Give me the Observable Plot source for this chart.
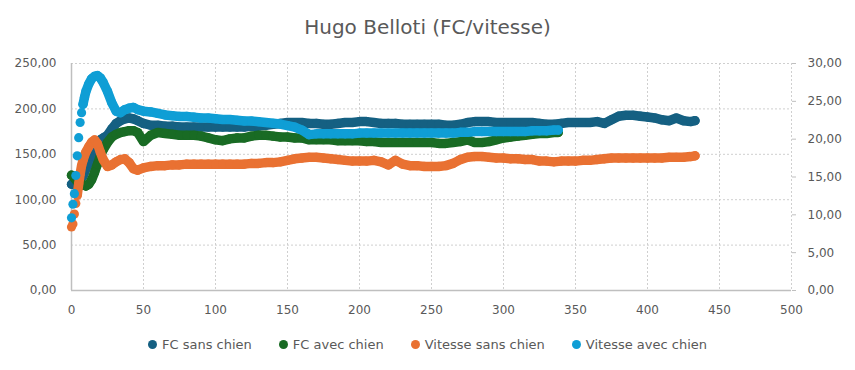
<!DOCTYPE html>
<html><head><meta charset="utf-8">
<script src="https://cdn.jsdelivr.net/npm/d3@7"></script>
<script src="https://cdn.jsdelivr.net/npm/@observablehq/plot@0.6"></script>
<style>
body{margin:0;background:#fff;font-family:"DejaVu Sans",sans-serif;color:#595959}
#wrap{width:855px;height:370px;position:relative;overflow:hidden;background:#fff}
#title{position:absolute;left:0;width:855px;top:17px;text-align:center;font-size:20px;line-height:20px;color:#595959}
#chart{position:absolute;left:0;top:50px}
#legend{position:absolute;left:0;top:338px;width:855px;display:flex;justify-content:center;gap:27px;font-size:13px;line-height:13px;color:#595959}
.item{display:flex;align-items:center;gap:5px}
.sw{width:9px;height:9px;border-radius:50%;display:inline-block}
</style></head><body>
<div id="wrap">
<div id="title">Hugo Belloti (FC/vitesse)</div>
<div id="chart"></div>
<div id="legend"></div>
</div>
<script>
const seriesNames = ["FC sans chien", "FC avec chien", "Vitesse sans chien", "Vitesse avec chien"];
const seriesColors = ["#156082", "#196B24", "#E97132", "#0F9ED5"];
const xTicks = [0, 50, 100, 150, 200, 250, 300, 350, 400, 450, 500];
const yTicks = [0, 50, 100, 150, 200, 250];
const rightTicks = [0, 5, 10, 15, 20, 25, 30];

const tSans = [0,1,2,3,4,5,6,7,8,9,10,12,14,16,18,20,22,25,28,31,34,37,40,43,46,50,
55,60,65,70,75,80,85,90,95,100,105,110,115,120,125,130,135,140,145,150,155,160,165,170,175,180,185,190,195,200,
205,210,215,220,225,230,235,240,245,250,255,260,265,270,275,280,285,290,295,300,305,310,315,320,325,330,335,340,
345,350,355,360,365,370,375,380,385,390,395,400,405,410,415,420,425,430,433];
const fcSans = [117,117,118,118,119,120,122,124,126,130,134,140,148,155,162,166,168,171,178,184,187,189,190,189,187,184,
182,182,181,181,180,180,180,180,180,180,180,180,180,180,181,181,182,183,184,185,185,185,184,184,183,183,184,185,185,186,
186,185,184,184,184,183,183,183,183,183,183,182,182,183,185,186,186,186,185,185,185,185,185,185,184,183,183,184,
185,185,185,185,186,184,188,192,193,193,192,191,190,188,187,190,187,186,187];
const vitSans = [8.4,8.8,10.1,11.5,12.6,14.1,15.4,16.5,17.2,17.8,18.3,19.0,19.6,19.9,19.4,18.3,17.3,16.4,16.6,17.0,17.3,17.4,16.9,16.1,15.9,16.2,
16.4,16.5,16.5,16.6,16.6,16.7,16.7,16.7,16.7,16.7,16.7,16.7,16.7,16.7,16.8,16.8,16.9,16.9,17.0,17.2,17.4,17.5,17.6,17.6,17.5,17.4,17.3,17.2,17.1,17.1,
17.1,17.2,17.0,16.6,17.2,16.7,16.5,16.5,16.4,16.4,16.4,16.5,16.8,17.3,17.6,17.7,17.7,17.6,17.5,17.5,17.4,17.4,17.3,17.3,17.1,17.1,17.0,17.1,
17.1,17.1,17.2,17.2,17.3,17.4,17.5,17.5,17.5,17.5,17.5,17.5,17.5,17.5,17.6,17.6,17.6,17.7,17.8];

const tAvec = [0,1,2,3,4,5,6,7,8,9,10,12,14,16,18,20,22,25,28,31,34,37,40,43,46,50,
55,60,65,70,75,80,85,90,95,100,105,110,115,120,125,130,135,140,145,150,155,160,165,170,175,180,185,190,195,200,
205,210,215,220,225,230,235,240,245,250,255,260,265,270,275,280,285,290,295,300,305,310,315,320,325,330,335,338];
const fcAvec = [127,126,124,122,120,119,118,117,116,116,115,117,122,130,139,148,155,163,169,172,174,175,176,176,174,164,
171,174,173,172,171,171,171,170,168,166,165,167,168,168,170,171,171,170,169,169,168,168,166,166,166,166,165,165,165,165,
164,164,163,163,163,163,163,163,163,163,162,162,163,164,166,163,163,164,166,168,169,170,171,172,173,173,174,174];
const vitAvec = [9.6,11.4,12.8,15.2,17.8,20.2,22.2,23.5,24.6,25.5,26.3,27.3,28.0,28.3,28.4,28.1,27.5,26.3,24.8,23.7,23.5,23.9,24.1,24.2,23.9,23.7,
23.6,23.4,23.2,23.1,23.0,23.0,22.9,22.8,22.8,22.7,22.6,22.6,22.5,22.4,22.4,22.3,22.2,22.1,22.0,21.8,21.6,21.2,20.6,20.7,20.7,20.7,20.7,20.7,20.7,20.8,
20.8,20.8,20.8,20.8,20.8,20.8,20.8,20.8,20.8,20.8,20.8,20.8,20.8,20.9,20.9,21.0,21.0,21.0,21.0,21.0,21.0,21.0,21.0,21.1,21.1,21.1,21.2,21.2];

const K = 250 / 30; // secondary axis (vitesse 0–30) onto primary (FC 0–250)
const fmt = d => d.toFixed(2).replace(".", ",");
const rows = (t, v, k) => t.map((x, i) => ({x, y: v[i] * k}));

const series = [
  {data: rows(tSans, fcSans, 1), lineFrom: 0},
  {data: rows(tAvec, fcAvec, 1), lineFrom: 0},
  {data: rows(tSans, vitSans, K), lineFrom: 4},
  {data: rows(tAvec, vitAvec, K), lineFrom: 8}
];

const seriesMarks = series.flatMap((s, i) => [
  Plot.line(s.data.filter(d => d.x >= s.lineFrom), {x: "x", y: "y", stroke: seriesColors[i], strokeWidth: 9.5, strokeLinejoin: "round", strokeLinecap: "round"}),
  Plot.dot(s.data, {x: "x", y: "y", fill: seriesColors[i], r: 4.6})
]);

const grid = {stroke: "#cfcfcf", strokeOpacity: 1, strokeDasharray: "2,2"};

const chart = Plot.plot({
  width: 855, height: 285,
  marginLeft: 71, marginRight: 64, marginTop: 13, marginBottom: 45,
  style: {fontFamily: "DejaVu Sans", fontSize: "12px", color: "#595959", background: "white", overflow: "visible"},
  x: {domain: [0, 500]},
  y: {domain: [0, 250]},
  marks: [
    Plot.gridX(xTicks.slice(1), grid),
    Plot.gridY(yTicks.slice(1), grid),
    Plot.ruleY([0], {stroke: "#bfbfbf", strokeWidth: 1.5}),
    Plot.ruleX([0], {stroke: "#bfbfbf", strokeWidth: 1.5}),
    Plot.axisX(xTicks, {tickSize: 0, tickPadding: 15, tickFormat: d => String(d), label: null}),
    Plot.axisY(yTicks, {tickSize: 0, tickPadding: 15, tickFormat: fmt, label: null}),
    Plot.axisY(rightTicks, {anchor: "right", y: d => d * K, tickSize: 4, tickPadding: 12, tickFormat: fmt, stroke: "#bfbfbf", label: null}),
    ...seriesMarks
  ]
});
document.getElementById("chart").appendChild(chart);

const legend = document.getElementById("legend");
seriesNames.forEach((name, i) => {
  const item = document.createElement("div");
  item.className = "item";
  const sw = document.createElement("span");
  sw.className = "sw";
  sw.style.background = seriesColors[i];
  const lab = document.createElement("span");
  lab.textContent = name;
  item.appendChild(sw); item.appendChild(lab);
  legend.appendChild(item);
});
</script>
</body></html>
